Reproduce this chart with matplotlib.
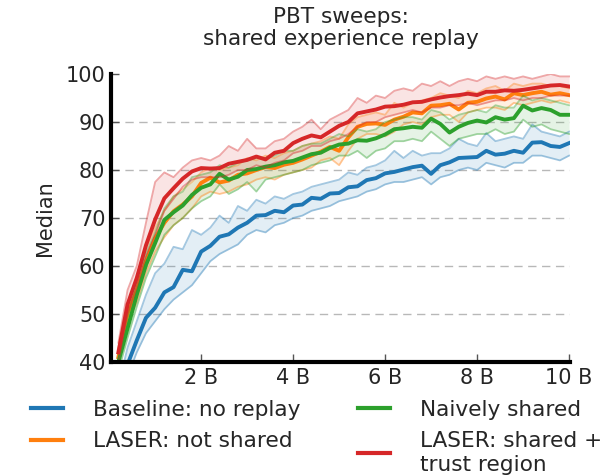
import matplotlib
matplotlib.use("Agg")
import matplotlib.pyplot as plt

steps_b = [0.2, 0.4, 0.6, 0.8, 1.0, 1.2, 1.4, 1.6, 1.8, 2.0,
           2.2, 2.4, 2.6, 2.8, 3.0, 3.2, 3.4, 3.6, 3.8, 4.0,
           4.2, 4.4, 4.6, 4.8, 5.0, 5.2, 5.4, 5.6, 5.8, 6.0,
           6.2, 6.4, 6.6, 6.8, 7.0, 7.2, 7.4, 7.6, 7.8, 8.0,
           8.2, 8.4, 8.6, 8.8, 9.0, 9.2, 9.4, 9.6, 9.8, 10.0]

baseline_mean = [32.0, 39.5, 44.5, 49.2, 51.3, 54.5, 55.6, 59.2, 58.9, 63.0,
                 64.2, 66.1, 66.6, 68.0, 69.0, 70.5, 70.6, 71.5, 71.2, 72.6,
                 72.8, 74.2, 74.0, 75.1, 75.2, 76.4, 76.6, 77.9, 78.3, 79.3,
                 79.6, 80.1, 80.6, 80.9, 79.2, 81.0, 81.6, 82.5, 82.6, 82.7,
                 84.0, 83.2, 83.4, 84.0, 83.6, 85.7, 85.8, 85.0, 84.8, 85.6]
baseline_hi = [35.0, 43.0, 48.5, 54.0, 58.5, 60.5, 64.0, 63.5, 67.5, 66.5,
               68.0, 70.5, 69.0, 72.5, 71.5, 73.8, 73.0, 74.5, 74.0, 75.0,
               75.5, 76.5, 77.0, 77.5, 78.0, 79.5, 79.0, 80.5, 81.0, 82.0,
               84.0, 82.5, 84.0, 83.0, 83.5, 83.5, 84.5, 86.5, 85.5, 85.0,
               87.7, 86.0, 86.5, 87.0, 86.5, 89.5, 88.0, 87.5, 87.0, 88.0]
baseline_lo = [30.0, 37.0, 42.0, 46.0, 48.5, 51.0, 53.0, 54.5, 56.0, 58.5,
               61.0, 62.5, 63.5, 64.5, 66.5, 67.5, 67.0, 68.5, 69.0, 70.0,
               70.5, 71.5, 72.0, 72.5, 73.5, 74.0, 74.5, 75.5, 76.0, 77.0,
               77.5, 77.5, 78.0, 78.5, 77.0, 78.5, 79.0, 80.0, 80.5, 80.0,
               81.5, 81.0, 80.5, 81.5, 81.5, 83.0, 83.0, 82.5, 82.0, 83.0]

notshared_mean = [41.0, 50.0, 55.0, 61.0, 65.8, 69.0, 71.4, 72.8, 74.5, 77.3,
                  78.4, 77.4, 77.8, 79.0, 79.3, 80.0, 80.6, 80.4, 81.1, 81.5,
                  82.2, 83.0, 83.8, 84.8, 84.0, 86.8, 89.0, 89.6, 89.7, 89.4,
                  90.5, 91.1, 92.0, 91.8, 93.4, 93.5, 93.8, 92.6, 94.0, 94.2,
                  94.9, 95.3, 94.7, 96.0, 95.6, 96.0, 96.3, 95.7, 96.0, 95.6]
notshared_hi = [43.0, 52.0, 57.5, 63.5, 68.0, 71.5, 74.5, 76.0, 77.5, 79.5,
                80.5, 80.0, 80.5, 81.0, 82.5, 82.0, 83.0, 82.5, 83.5, 84.0,
                85.0, 85.5, 86.0, 87.0, 86.5, 89.5, 91.0, 91.5, 92.0, 91.5,
                94.0, 93.0, 94.0, 94.5, 95.0, 96.0, 95.5, 95.0, 96.5, 96.0,
                97.0, 97.5, 96.5, 98.0, 97.5, 98.0, 98.0, 97.5, 97.5, 97.0]
notshared_lo = [39.0, 48.0, 52.5, 58.5, 63.0, 66.0, 68.5, 70.0, 72.0, 74.5,
                75.5, 75.0, 75.5, 76.5, 77.0, 78.0, 78.5, 78.0, 79.0, 79.5,
                80.0, 80.5, 82.0, 82.5, 81.0, 84.0, 86.5, 87.5, 87.5, 87.0,
                88.0, 89.5, 90.0, 89.5, 91.0, 91.5, 91.5, 90.0, 92.0, 92.5,
                93.0, 93.0, 92.5, 94.0, 93.5, 94.0, 94.5, 94.0, 94.5, 94.0]

naive_mean = [40.0, 47.0, 54.0, 60.2, 64.8, 69.6, 71.2, 72.6, 74.8, 76.3,
              77.0, 79.2, 78.0, 78.6, 80.0, 80.2, 80.7, 81.0, 81.6, 81.9,
              82.6, 83.3, 83.6, 84.6, 85.3, 85.5, 86.2, 86.1, 86.6, 87.4,
              88.5, 88.7, 89.0, 88.8, 90.7, 89.6, 87.8, 89.0, 89.8, 90.3,
              89.9, 91.0, 90.5, 90.8, 93.4, 92.4, 92.9, 92.5, 91.5, 91.5]
naive_hi = [42.0, 49.5, 56.5, 62.5, 67.0, 72.0, 74.5, 75.5, 78.5, 79.0,
            79.5, 81.0, 80.5, 81.5, 82.0, 82.5, 82.5, 83.0, 84.0, 84.0,
            85.0, 85.5, 85.5, 86.5, 87.5, 87.0, 88.5, 88.0, 88.5, 90.0,
            90.5, 91.0, 91.0, 90.5, 92.5, 92.0, 90.5, 91.5, 92.0, 92.5,
            92.0, 93.5, 93.0, 93.0, 95.5, 94.5, 95.0, 94.5, 94.0, 93.5]
naive_lo = [38.0, 45.0, 51.5, 57.5, 62.0, 66.5, 68.5, 70.0, 72.0, 73.5,
            74.5, 77.0, 75.0, 76.0, 77.5, 75.5, 78.0, 78.5, 79.0, 79.5,
            80.0, 81.0, 81.5, 82.0, 83.0, 83.0, 84.0, 82.5, 84.0, 84.5,
            86.0, 86.0, 86.5, 86.0, 88.0, 86.5, 85.0, 86.5, 87.0, 87.5,
            87.5, 88.5, 87.5, 88.0, 90.5, 89.0, 89.5, 88.5, 88.0, 87.5]

trust_mean = [42.0, 52.0, 57.5, 64.3, 69.7, 74.1, 76.2, 78.2, 79.7, 80.4,
              80.3, 80.4, 81.3, 81.7, 82.1, 82.8, 82.2, 83.6, 84.0, 85.6,
              86.5, 87.2, 86.8, 88.0, 89.2, 90.0, 91.8, 92.2, 92.6, 93.2,
              93.3, 93.6, 94.1, 94.2, 94.7, 95.1, 95.4, 95.6, 95.9, 95.6,
              96.3, 96.3, 96.6, 96.5, 96.7, 97.0, 97.3, 97.6, 97.7, 97.4]
trust_hi = [44.0, 55.0, 60.0, 69.0, 77.5, 79.5, 78.5, 80.5, 82.0, 82.5,
            82.0, 83.0, 85.0, 84.0, 86.5, 84.5, 84.5, 86.0, 86.5, 88.0,
            89.0, 90.5, 88.5, 90.5, 91.5, 92.5, 95.0, 94.0, 95.5, 95.0,
            96.5, 97.0, 96.5, 98.0, 97.5, 98.5, 97.5, 98.5, 99.0, 98.5,
            99.5, 99.0, 99.5, 99.0, 99.5, 99.0, 99.5, 100.0, 99.5, 99.5]
trust_lo = [40.0, 50.0, 55.5, 62.0, 66.5, 71.5, 74.0, 76.5, 78.0, 78.5,
            78.5, 78.5, 79.0, 80.0, 80.0, 81.0, 80.5, 81.5, 82.0, 83.5,
            84.0, 85.0, 85.0, 86.0, 86.5, 87.5, 89.0, 90.0, 90.0, 91.0,
            91.5, 92.0, 92.5, 92.0, 93.0, 93.0, 93.5, 93.5, 94.0, 93.5,
            94.0, 94.5, 94.5, 95.0, 94.5, 95.0, 95.0, 95.5, 95.5, 95.5]

labels = ["Baseline: no replay", "LASER: not shared", "Naively shared",
          "LASER: shared +\ntrust region"]
colors = ["#1f77b4", "#ff7f0e", "#2ca02c", "#d62728"]
x_ticks = [2, 4, 6, 8, 10]
x_tick_labels = ["2 B", "4 B", "6 B", "8 B", "10 B"]
y_ticks = [40, 50, 60, 70, 80, 90, 100]

series = [
    (baseline_mean, baseline_lo, baseline_hi),
    (notshared_mean, notshared_lo, notshared_hi),
    (naive_mean, naive_lo, naive_hi),
    (trust_mean, trust_lo, trust_hi),
]

text_color = "#262626"
fig = plt.figure(figsize=(6.11, 4.75), dpi=100)
ax = fig.add_axes([111 / 611, 1 - 362 / 475, (570 - 111) / 611, (362 - 74) / 475])

handles = []
for (m, lo, hi), c, lab in zip(series, colors, labels):
    ax.fill_between(steps_b, lo, hi, color=c, alpha=0.12, lw=0)
    ax.plot(steps_b, lo, color=c, alpha=0.4, lw=1.3)
    ax.plot(steps_b, hi, color=c, alpha=0.4, lw=1.3)
    h, = ax.plot(steps_b, m, color=c, lw=2.8, label=lab)
    handles.append(h)

ax.set_xlim(0.04, 10.02)
ax.set_ylim(40, 100)
ax.set_xticks(x_ticks)
ax.set_xticklabels(x_tick_labels)
ax.set_yticks(y_ticks)
ax.yaxis.grid(True, linestyle=(0, (6, 4)), color="#b8b8b8", lw=1.0)
ax.get_ygridlines()[-1].set_visible(False)
ax.set_axisbelow(True)
for s in ["top", "right"]:
    ax.spines[s].set_visible(False)
for s in ["left", "bottom"]:
    ax.spines[s].set_linewidth(3)
    ax.spines[s].set_color("black")
ax.tick_params(axis="both", direction="in", length=6, width=1, color="#555555",
               labelsize=15, labelcolor=text_color, pad=4)
ax.set_ylabel("Median", fontsize=15, color=text_color, labelpad=8)
ax.set_title("PBT sweeps:\nshared experience replay", fontsize=15.6,
             color=text_color, pad=21, linespacing=1.12)

leg = fig.legend(handles=handles, labels=labels, ncol=2, loc="upper left",
                 bbox_to_anchor=(0.019, 0.2), frameon=False, fontsize=15.6,
                 handlelength=1.45, handletextpad=1.4, columnspacing=2.67,
                 labelspacing=0.55)
for t in leg.get_texts():
    t.set_color(text_color)
for l in leg.get_lines():
    l.set_linewidth(3)

fig.savefig("out.png", dpi=100)
